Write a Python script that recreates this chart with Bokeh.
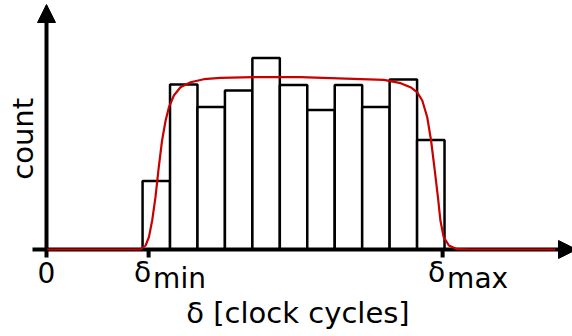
from bokeh.plotting import figure
from bokeh.models import Range1d, Arrow, NormalHead
from bokeh.core.properties import value
from bokeh.embed import file_html
from bokeh.resources import INLINE
import numpy as np

# Histogram of measured delays (bin centres in clock cycles, counts per bin)
bin_centers = [4, 5, 6, 7, 8, 9, 10, 11, 12, 13, 14]
bin_counts = [13.7, 33.0, 28.5, 31.8, 38.3, 32.9, 27.9, 32.9, 28.5, 34.0, 21.9]

# Smoothed model of the delay distribution
curve_x = [0.03, 2.70, 3.42, 3.61, 3.73, 3.85, 3.97, 4.09, 4.21, 4.34, 4.46,
           4.64, 4.88, 5.25, 5.73, 6.34, 7.54, 9.25, 12.29, 12.90, 13.26,
           13.50, 13.69, 13.87, 14.01, 14.13, 14.26, 14.35, 14.47, 14.66,
           14.96, 15.56, 18.54]
curve_y = [0, 0, 0, 0.8, 2.46, 5.8, 10.46, 16.46, 21.8, 25.8, 28.46,
           30.8, 32.46, 33.46, 34.06, 34.34, 34.46, 34.46, 33.94, 33.26, 32.46,
           31.46, 29.8, 26.46, 21.8, 16.46, 10.46, 5.8, 2.46, 0.8,
           0.06, 0, 0]

# Tick positions and their labels
tick_values = [0, 3.72, 14.43]
tick_main = ["0", "δ", "δ"]
tick_sub = ["", "min", "max"]

W, H = 572, 336
X0, Y0 = 46, 249          # canvas pixel of the data origin
XS, YS = 27.45, 5.0       # pixels per data unit
LIFT = 11                 # baseline correction for text placement, px


def dx(px):
    return (px - X0) / XS


def dy(py):
    return (Y0 - py) / YS


p = figure(width=W, height=H, output_backend="svg", toolbar_location=None,
           x_axis_type=None, y_axis_type=None,
           x_range=Range1d(dx(0), dx(W)), y_range=Range1d(dy(H), dy(0)),
           min_border=0, outline_line_color=None)
p.background_fill_color = "white"
p.border_fill_color = "white"

FONT = value("DejaVu Sans")

# bars
centers = np.array(bin_centers, dtype=float)
p.quad(left=centers - 0.5, right=centers + 0.5, bottom=0, top=bin_counts,
       fill_color="white", line_color="black", line_width=2.5)

# axes lines
p.segment(x0=[dx(32), 0], y0=[0, dy(257)], x1=[dx(563), 0], y1=[0, dy(19)],
          line_color="black", line_width=4, line_cap="butt")
# ticks below the axis
p.segment(x0=tick_values[1:], y0=0, x1=tick_values[1:], y1=dy(257),
          line_color="black", line_width=4, line_cap="butt")

# arrow heads
p.add_layout(Arrow(end=NormalHead(size=18, fill_color="black", line_color="black", line_width=1),
                   x_start=dx(560), y_start=0, x_end=dx(576), y_end=0, line_alpha=0))
p.add_layout(Arrow(end=NormalHead(size=18, fill_color="black", line_color="black", line_width=1),
                   x_start=0, y_start=dy(22), x_end=0, y_end=dy(4), line_alpha=0))

# model curve
p.line(curve_x, curve_y, line_color="#c80000", line_width=2.2)

# tick labels
p.text(x=[tick_values[0]], y=[dy(282.5 - LIFT)], text=[tick_main[0]], text_font=FONT,
       text_font_size="28px", text_align="center", text_baseline="alphabetic",
       text_color="black")
main_x = [t - 14.5 / XS for t in tick_values[1:]]
sub_x = [t + 4.5 / XS for t in tick_values[1:]]
p.text(x=main_x, y=dy(283.3 - LIFT), text=tick_main[1:], text_font=FONT,
       text_font_size="28px", text_align="left", text_baseline="alphabetic",
       text_color="black")
p.text(x=sub_x, y=dy(289 - LIFT), text=tick_sub[1:], text_font=FONT,
       text_font_size="28px", text_align="left", text_baseline="alphabetic",
       text_color="black")

# axis titles
p.text(x=[dx(297.5)], y=[dy(323.3 - LIFT)], text=["δ [clock cycles]"], text_font=FONT,
       text_font_size="29px", text_align="center", text_baseline="alphabetic",
       text_color="black")
p.text(x=[dx(33.3 - LIFT)], y=[dy(138.3)], text=["count"], text_font=FONT,
       text_font_size="29px", text_align="center", text_baseline="alphabetic",
       angle=np.pi / 2, text_color="black")

open("out.html", "w").write(file_html(p, INLINE))
